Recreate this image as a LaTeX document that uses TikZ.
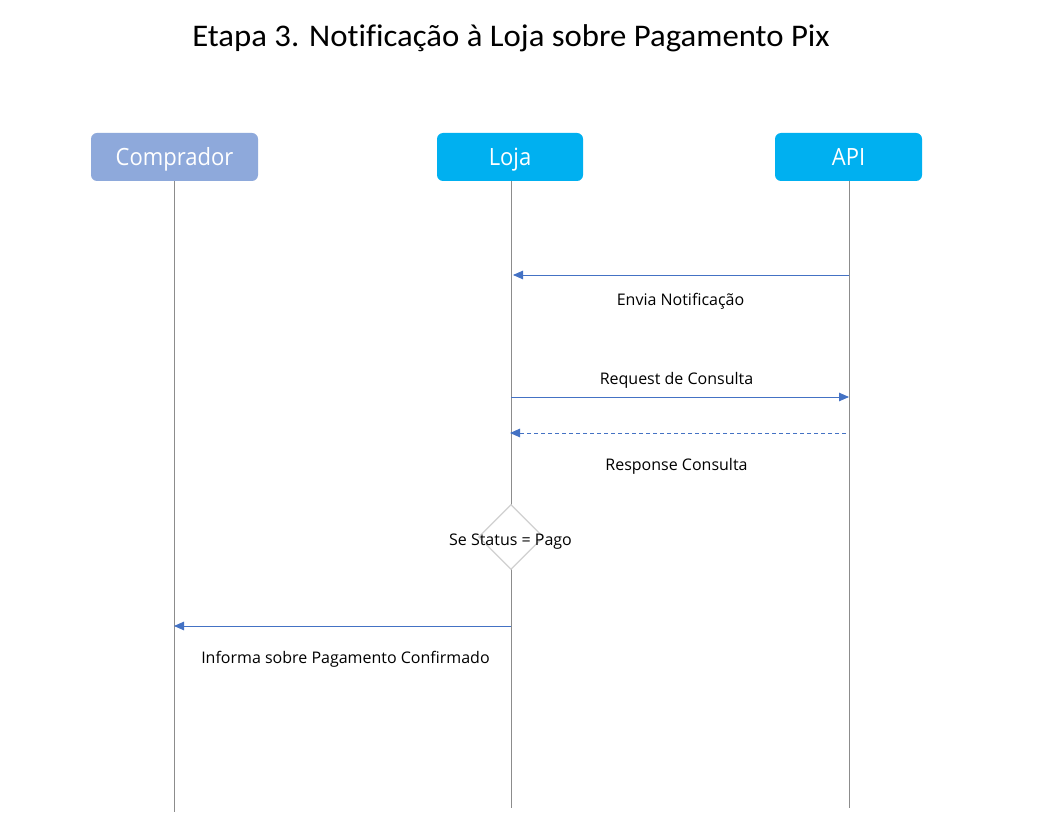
\documentclass[tikz,border=0pt]{standalone}
\usepackage{graphicx}
\usepackage{fontspec}
\setmainfont{Carlito}[Ligatures=NoCommon]
\newfontfamily\headfont{Open Sans}
\usetikzlibrary{arrows.meta,shapes.geometric}
\definecolor{lifegray}{HTML}{8C8C8C}
\definecolor{arrowblue}{HTML}{4472C4}
\definecolor{compblue}{HTML}{8EA9DB}
\definecolor{cyanbox}{HTML}{00B0F0}
\definecolor{diagray}{HTML}{D0D0D0}
\newcommand{\vstretch}[2]{\scalebox{1}[#1]{#2}}
\tikzset{
  actor/.style={rounded corners=6pt, minimum width=#1, minimum height=48pt, inner sep=0pt, text height=18pt, text depth=0pt, text=white, font=\headfont\fontsize{22}{26}\selectfont},
  lifeline/.style={draw=lifegray, line width=0.8pt},
  msg/.style={draw=arrowblue, line width=0.9pt, -{Triangle[length=10pt,width=8.5pt]}, fill=none},
  msglabel/.style={font=\headfont\fontsize{16}{19}\selectfont, inner sep=0pt, anchor=base},
}
\begin{document}
\begin{tikzpicture}[x=1pt,y=-1pt]
\useasboundingbox[fill=white] (0,0) rectangle (1037,826);
\node[font=\fontsize{31.5}{36}\selectfont, inner sep=0pt, anchor=base] (title) at (511,46.7) {\scalebox{1.04}[1]{Etapa 3. Notificação à Loja sobre Pagamento Pix}};

\node[actor=167pt, fill=compblue] (comp) at (174.5,157) {\vstretch{1.08}{Comprador}};
\node[actor=146pt, fill=cyanbox] (loja) at (510,157) {\vstretch{1.08}{Loja}};
\node[actor=147pt, fill=cyanbox] (api) at (848.5,157) {\vstretch{1.08}{API}};

\coordinate (compend) at (174,812);
\coordinate (lojaend) at (511,808);
\coordinate (apiend) at (849,808);

\draw[lifeline] (comp.south -| compend) -- (compend);
\draw[lifeline] (loja.south -| lojaend) -- (lojaend);
\draw[lifeline] (api.south -| apiend) -- (apiend);

\node[diamond, draw=diagray, fill=white, line width=1.2pt, minimum width=65pt, minimum height=65pt, inner sep=0pt] (dec) at (511,537) {};
\node[msglabel] (declabel) at (510.5,545) {Se Status = Pago};

\coordinate (a1s) at (849,275); \coordinate (a1e) at (513,275);
\draw[msg] (a1s) -- (a1e);
\node[msglabel] (l1) at (680.5,305.5) {Envia Notificação};

\coordinate (a2s) at (511,397); \coordinate (a2e) at (849,397);
\draw[msg] (a2s) -- (a2e);
\node[msglabel] (l2) at (676.5,385) {Request de Consulta};

\coordinate (a3s) at (846,433); \coordinate (a3e) at (510,433);
\draw[msg, dashed, dash pattern=on 4pt off 3pt] (a3s) -- (a3e);
\node[msglabel] (l3) at (676.5,470) {Response Consulta};

\coordinate (a4s) at (511,626); \coordinate (a4e) at (174,626);
\draw[msg] (a4s) -- (a4e);
\node[msglabel] (l4) at (345.5,663) {Informa sobre Pagamento Confirmado};
\end{tikzpicture}
\end{document}
